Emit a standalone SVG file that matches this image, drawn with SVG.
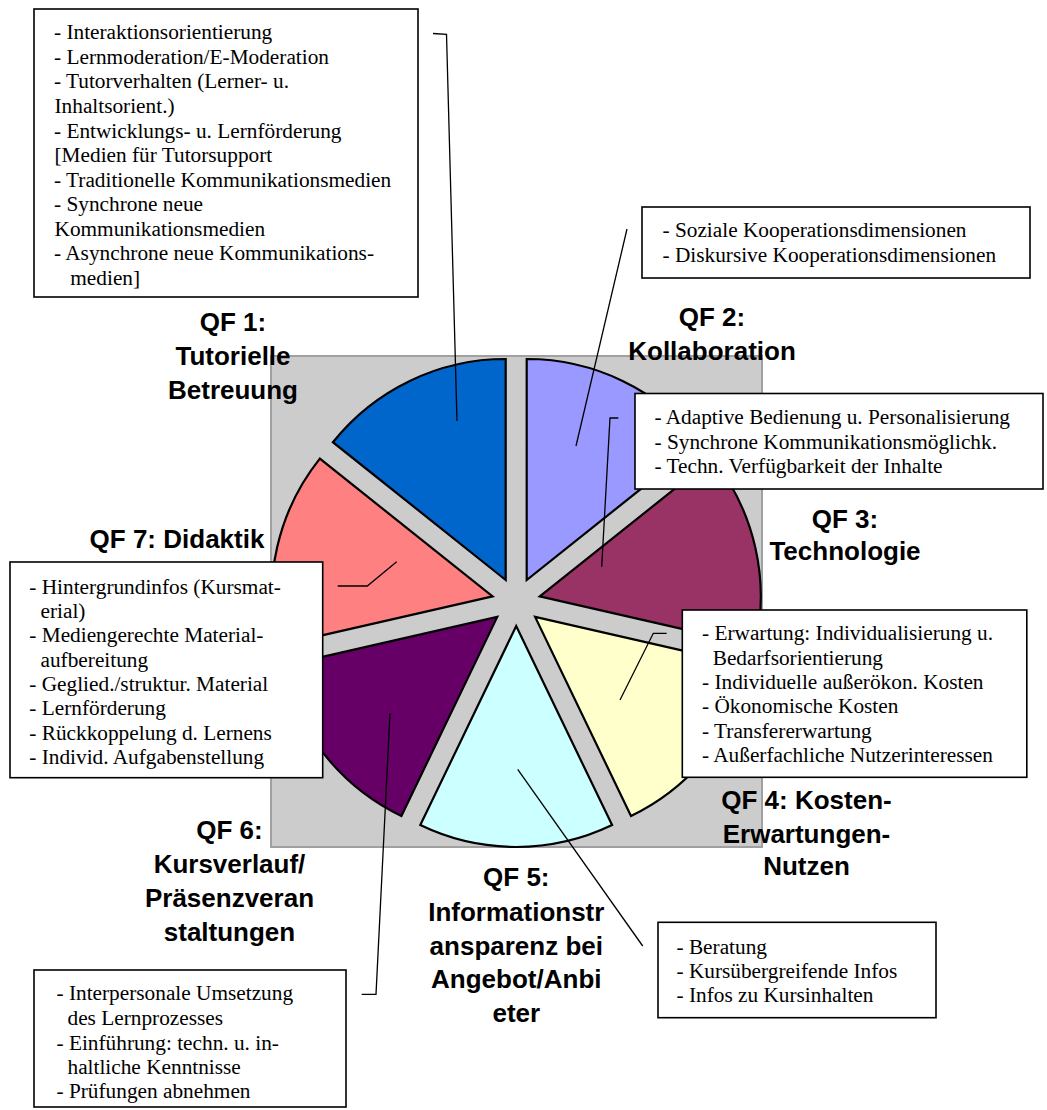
<svg xmlns="http://www.w3.org/2000/svg" width="1047" height="1110" viewBox="0 0 1047 1110">
<style>
.box{fill:#fff;stroke:#000;stroke-width:1.6}
.t{font-family:"Liberation Serif","Times New Roman",serif;font-size:21.3px;fill:#000}
.lab{font-family:"Liberation Sans",Arial,sans-serif;font-size:26px;font-weight:bold;fill:#000;text-anchor:middle}
.sl{stroke:#000;stroke-width:2.2;stroke-linejoin:miter}
.cn{fill:none;stroke:#000;stroke-width:1.3}
</style>
<rect x="271" y="356" width="491" height="491" fill="#CCCCCC" stroke="#A0A0A0" stroke-width="2"/>
<g id="pie">
<path id="slice-qf2" class="sl" fill="#9999FF" d="M526.7,580 L526.7,359 A221,221 0 0,1 699.48,442.21 Z"/>
<path id="slice-qf3" class="sl" fill="#993366" d="M539.79,596.42 L712.57,458.63 A221,221 0 0,1 755.25,645.6 Z"/>
<path id="slice-qf4" class="sl" fill="#FFFFCC" d="M535.12,616.89 L750.58,666.07 A221,221 0 0,1 631.01,816 Z"/>
<path id="slice-qf5" class="sl" fill="#CCFFFF" d="M516.2,626 L612.09,825.11 A221,221 0 0,1 420.31,825.11 Z"/>
<path id="slice-qf6" class="sl" fill="#660066" d="M497.28,616.89 L401.39,816 A221,221 0 0,1 281.82,666.07 Z"/>
<path id="slice-qf7" class="sl" fill="#FF8080" d="M492.61,596.42 L277.15,645.6 A221,221 0 0,1 319.83,458.63 Z"/>
<path id="slice-qf1" class="sl" fill="#0066CC" d="M505.7,580 L332.92,442.21 A221,221 0 0,1 505.7,359 Z"/>
</g>
<g id="connectors">
<polyline class="cn" points="433,33.5 446.5,34.3 457,421"/>
<polyline class="cn" points="627,229 576,446"/>
<polyline class="cn" points="618.3,418 610,418 601.7,566.7"/>
<polyline class="cn" points="666.7,633.3 653.3,633.3 620,700"/>
<polyline class="cn" points="517.7,769.3 642.7,946"/>
<polyline class="cn" points="390,713.3 376,994.3 361.7,994.3"/>
<polyline class="cn" points="337.7,586 367.3,586 396.7,561.7"/>
</g>
<g id="box-qf1">
<rect class="box" x="34" y="9" width="384" height="288"/>
<text class="t" x="54" y="39.3">- Interaktionsorientierung</text>
<text class="t" x="54" y="63.8">- Lernmoderation/E-Moderation</text>
<text class="t" x="54" y="88.4">- Tutorverhalten (Lerner- u.</text>
<text class="t" x="54.5" y="112.9">Inhaltsorient.)</text>
<text class="t" x="54" y="137.5">- Entwicklungs- u. Lernförderung</text>
<text class="t" x="54.5" y="162">[Medien für Tutorsupport</text>
<text class="t" x="54" y="186.5">- Traditionelle Kommunikationsmedien</text>
<text class="t" x="54" y="211.1">- Synchrone neue</text>
<text class="t" x="54.5" y="235.6">Kommunikationsmedien</text>
<text class="t" x="54" y="260.2">- Asynchrone neue Kommunikations-</text>
<text class="t" x="70.3" y="284.7">medien]</text>
</g>
<g id="box-qf2">
<rect class="box" x="642" y="207" width="388" height="71"/>
<text class="t" x="662.5" y="237">- Soziale Kooperationsdimensionen</text>
<text class="t" x="662.5" y="261.5">- Diskursive Kooperationsdimensionen</text>
</g>
<g id="box-qf3">
<rect class="box" x="635" y="393.5" width="408" height="95.5"/>
<text class="t" x="654.5" y="424.3">- Adaptive Bedienung u. Personalisierung</text>
<text class="t" x="654.5" y="448.7">- Synchrone Kommunikationsmöglichk.</text>
<text class="t" x="654.5" y="473">- Techn. Verfügbarkeit der Inhalte</text>
</g>
<g id="box-qf4">
<rect class="box" x="682.3" y="610" width="344.5" height="167.3"/>
<text class="t" x="702" y="640.3">- Erwartung: Individualisierung u.</text>
<text class="t" x="712.7" y="664.7">Bedarfsorientierung</text>
<text class="t" x="702" y="689">- Individuelle außerökon. Kosten</text>
<text class="t" x="702" y="713.4">- Ökonomische Kosten</text>
<text class="t" x="702" y="737.8">- Transfererwartung</text>
<text class="t" x="702" y="762.2">- Außerfachliche Nutzerinteressen</text>
</g>
<g id="box-qf7">
<rect class="box" x="10" y="562" width="312.7" height="215.7"/>
<text class="t" x="29.3" y="593.7">- Hintergrundinfos (Kursmat-</text>
<text class="t" x="40.5" y="618">erial)</text>
<text class="t" x="29.3" y="642.3">- Mediengerechte Material-</text>
<text class="t" x="40.5" y="666.6">aufbereitung</text>
<text class="t" x="29.3" y="690.9">- Geglied./struktur. Material</text>
<text class="t" x="29.3" y="715.2">- Lernförderung</text>
<text class="t" x="29.3" y="739.5">- Rückkoppelung d. Lernens</text>
<text class="t" x="29.3" y="763.8">- Individ. Aufgabenstellung</text>
</g>
<g id="box-qf5">
<rect class="box" x="658" y="922.3" width="278" height="95.4"/>
<text class="t" x="676.5" y="953.5">- Beratung</text>
<text class="t" x="676.5" y="977.8">- Kursübergreifende Infos</text>
<text class="t" x="676.5" y="1002">- Infos zu Kursinhalten</text>
</g>
<g id="box-qf6">
<rect class="box" x="34" y="970" width="312" height="137"/>
<text class="t" x="56.5" y="1000.3">- Interpersonale Umsetzung</text>
<text class="t" x="67.5" y="1024.7">des Lernprozesses</text>
<text class="t" x="56.5" y="1049.7">- Einführung: techn. u. in-</text>
<text class="t" x="67.5" y="1073.7">haltliche Kenntnisse</text>
<text class="t" x="56.5" y="1098">- Prüfungen abnehmen</text>
</g>
<g id="labels">
<text class="lab" x="233" y="331">QF 1:</text>
<text class="lab" x="233" y="365">Tutorielle</text>
<text class="lab" x="233" y="399">Betreuung</text>
<text class="lab" x="712" y="326">QF 2:</text>
<text class="lab" x="712" y="359.5">Kollaboration</text>
<text class="lab" x="845" y="527.5">QF 3:</text>
<text class="lab" x="845" y="560">Technologie</text>
<text class="lab" x="177" y="547.5">QF 7: Didaktik</text>
<text class="lab" x="806.5" y="809">QF 4: Kosten-</text>
<text class="lab" x="806.5" y="842.5">Erwartungen-</text>
<text class="lab" x="806.5" y="875">Nutzen</text>
<text class="lab" x="229.5" y="839">QF 6:</text>
<text class="lab" x="229.5" y="873">Kursverlauf/</text>
<text class="lab" x="229.5" y="907">Präsenzveran</text>
<text class="lab" x="229.5" y="941">staltungen</text>
<text class="lab" x="516.3" y="886">QF 5:</text>
<text class="lab" x="516.3" y="920.5">Informationstr</text>
<text class="lab" x="516.3" y="954.5">ansparenz bei</text>
<text class="lab" x="516.3" y="988">Angebot/Anbi</text>
<text class="lab" x="516.3" y="1022">eter</text>
</g>
</svg>
